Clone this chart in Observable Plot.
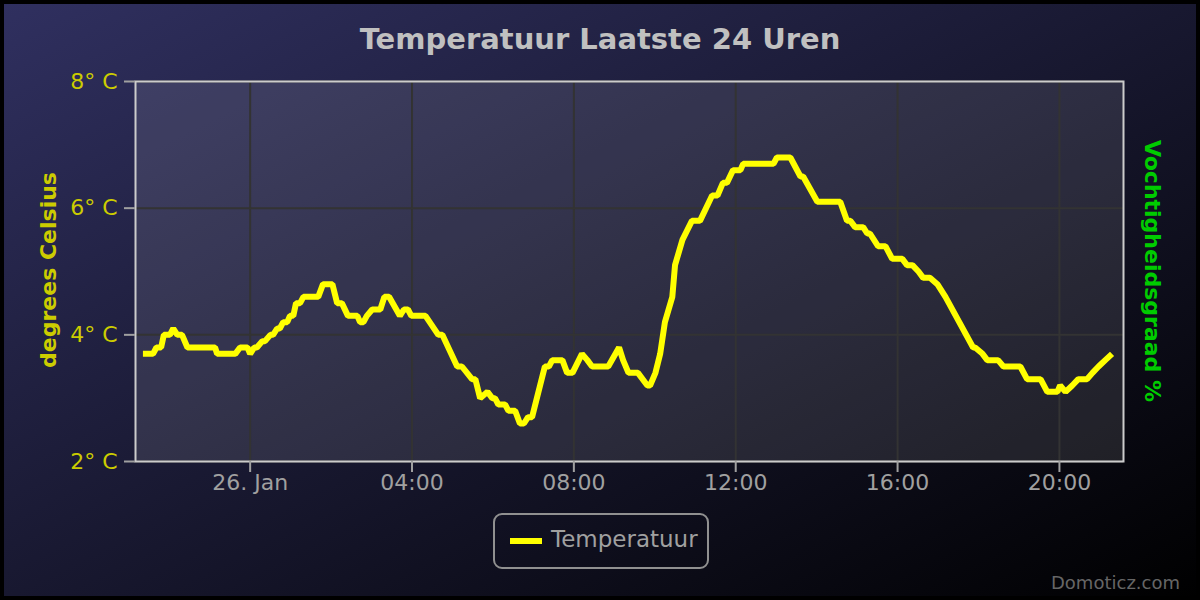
<!DOCTYPE html>
<html>
<head>
<meta charset="utf-8">
<script src="https://cdn.jsdelivr.net/npm/d3@7"></script>
<script src="https://cdn.jsdelivr.net/npm/@observablehq/plot@0.6"></script>
<style>
  html, body { margin: 0; padding: 0; background: #000; }
  #wrap { position: relative; width: 1200px; height: 600px; overflow: hidden;
    background: linear-gradient(to bottom right, rgb(48,48,96), rgb(0,0,0));
    font-family: "DejaVu Sans", sans-serif; }
  #border { position: absolute; left: 0; top: 0; width: 1200px; height: 600px; box-sizing: border-box;
    border: 4px solid #000; pointer-events: none; }
  #title { position: absolute; left: 0; width: 1200px; top: 22px; text-align: center;
    color: #c0c0c0; font-weight: bold; font-size: 29px; }
  .ytitle { position: absolute; font-weight: bold; font-size: 22px; white-space: nowrap;
    transform-origin: center center; }
  #ylab { left: 48px; top: 270px; color: #cccc00; transform: translate(-50%, -50%) rotate(-90deg); }
  #ylab2 { left: 1152px; top: 271px; color: #00cc00; transform: translate(-50%, -50%) rotate(90deg); }
  #legend { position: absolute; left: 493px; top: 513px; width: 216px; height: 56px; box-sizing: border-box;
    border: 2px solid #909090; border-radius: 9px; }
  #legend .sym { position: absolute; left: 15px; top: 23px; width: 32px; height: 6px; background: #ffff00; }
  #legend .txt { position: absolute; left: 56px; top: 11px; color: #a0a0a0; font-size: 23px; }
  #credits { position: absolute; right: 20px; top: 572px; color: #666; font-size: 18px; }
</style>
</head>
<body>
<div id="wrap">
  <div id="chart"></div>
  <div id="title"></div>
  <div id="ylab" class="ytitle"></div>
  <div id="ylab2" class="ytitle"></div>
  <div id="legend"><div class="sym"></div><div class="txt"></div></div>
  <div id="credits"></div>
  <div id="border"></div>
</div>
<script>
// ---- Texts ----
const chartTitle = "Temperatuur Laatste 24 Uren";
const yAxisTitle = "degrees Celsius";
const y2AxisTitle = "Vochtigheidsgraad %";
const seriesName = "Temperatuur";
const creditsText = "Domoticz.com";

// ---- Axes ----
const xDomain = ["2025-01-25T21:10", "2025-01-26T21:35"];
const xTicks = ["2025-01-26T00:00", "2025-01-26T04:00", "2025-01-26T08:00",
                "2025-01-26T12:00", "2025-01-26T16:00", "2025-01-26T20:00"];
const xTickLabels = ["26. Jan", "04:00", "08:00", "12:00", "16:00", "20:00"];
const yDomain = [2, 8];
const yTicks = [2, 4, 6, 8];
const yTickLabels = ["2° C", "4° C", "6° C", "8° C"];

// ---- Series (time, temperature °C) ----
const times = [
  "2025-01-25T21:21","2025-01-25T21:36","2025-01-25T21:41","2025-01-25T21:48","2025-01-25T21:52",
  "2025-01-25T22:01","2025-01-25T22:06","2025-01-25T22:12","2025-01-25T22:19","2025-01-25T22:27",
  "2025-01-25T23:08","2025-01-25T23:11","2025-01-25T23:38","2025-01-25T23:45","2025-01-25T23:56",
  "2025-01-26T00:00","2025-01-26T00:06","2025-01-26T00:10","2025-01-26T00:18","2025-01-26T00:22",
  "2025-01-26T00:30","2025-01-26T00:34","2025-01-26T00:40","2025-01-26T00:44","2025-01-26T00:49",
  "2025-01-26T00:55","2025-01-26T00:59","2025-01-26T01:04","2025-01-26T01:08","2025-01-26T01:14",
  "2025-01-26T01:19","2025-01-26T01:41","2025-01-26T01:48","2025-01-26T02:02","2025-01-26T02:09",
  "2025-01-26T02:16","2025-01-26T02:25","2025-01-26T02:39","2025-01-26T02:43","2025-01-26T02:48",
  "2025-01-26T02:53","2025-01-26T03:01","2025-01-26T03:13","2025-01-26T03:19","2025-01-26T03:26",
  "2025-01-26T03:42","2025-01-26T03:48","2025-01-26T03:54","2025-01-26T03:59","2025-01-26T04:20",
  "2025-01-26T04:39","2025-01-26T04:45","2025-01-26T05:07","2025-01-26T05:14","2025-01-26T05:29",
  "2025-01-26T05:34","2025-01-26T05:41","2025-01-26T05:52","2025-01-26T05:59","2025-01-26T06:03",
  "2025-01-26T06:08","2025-01-26T06:18","2025-01-26T06:23","2025-01-26T06:33","2025-01-26T06:40",
  "2025-01-26T06:46","2025-01-26T06:52","2025-01-26T06:58","2025-01-26T07:17","2025-01-26T07:23",
  "2025-01-26T07:28","2025-01-26T07:43","2025-01-26T07:50","2025-01-26T07:58","2025-01-26T08:12",
  "2025-01-26T08:20","2025-01-26T08:27","2025-01-26T08:51","2025-01-26T09:07","2025-01-26T09:13",
  "2025-01-26T09:21","2025-01-26T09:35","2025-01-26T09:49","2025-01-26T09:53","2025-01-26T10:01",
  "2025-01-26T10:08","2025-01-26T10:15","2025-01-26T10:26","2025-01-26T10:30","2025-01-26T10:41",
  "2025-01-26T10:55","2025-01-26T11:07","2025-01-26T11:25","2025-01-26T11:33","2025-01-26T11:41",
  "2025-01-26T11:47","2025-01-26T11:56","2025-01-26T12:07","2025-01-26T12:11","2025-01-26T12:56",
  "2025-01-26T13:01","2025-01-26T13:21","2025-01-26T13:36","2025-01-26T13:40","2025-01-26T14:01",
  "2025-01-26T14:35","2025-01-26T14:45","2025-01-26T14:50","2025-01-26T14:57","2025-01-26T15:09",
  "2025-01-26T15:15","2025-01-26T15:19","2025-01-26T15:31","2025-01-26T15:42","2025-01-26T15:52",
  "2025-01-26T16:07","2025-01-26T16:14","2025-01-26T16:22","2025-01-26T16:31","2025-01-26T16:38",
  "2025-01-26T16:48","2025-01-26T16:59","2025-01-26T17:11","2025-01-26T17:52","2025-01-26T17:55",
  "2025-01-26T18:06","2025-01-26T18:13","2025-01-26T18:29","2025-01-26T18:37","2025-01-26T19:02",
  "2025-01-26T19:12","2025-01-26T19:32","2025-01-26T19:42","2025-01-26T19:57","2025-01-26T20:01",
  "2025-01-26T20:09","2025-01-26T20:19","2025-01-26T20:28","2025-01-26T20:41","2025-01-26T20:49",
  "2025-01-26T20:58","2025-01-26T21:08","2025-01-26T21:18"
];
const temps = [
  3.7,3.7,3.8,3.8,4.0,
  4.0,4.1,4.0,4.0,3.8,
  3.8,3.7,3.7,3.8,3.8,
  3.7,3.8,3.8,3.9,3.9,
  4.0,4.0,4.1,4.1,4.2,
  4.2,4.3,4.3,4.5,4.5,
  4.6,4.6,4.8,4.8,4.5,
  4.5,4.3,4.3,4.2,4.2,
  4.3,4.4,4.4,4.6,4.6,
  4.3,4.4,4.4,4.3,4.3,
  4.0,4.0,3.5,3.5,3.3,
  3.3,3.0,3.1,3.0,3.0,
  2.9,2.9,2.8,2.8,2.6,
  2.6,2.7,2.7,3.5,3.5,
  3.6,3.6,3.4,3.4,3.7,
  3.6,3.5,3.5,3.8,3.6,
  3.4,3.4,3.2,3.2,3.4,
  3.7,4.2,4.6,5.1,5.5,
  5.8,5.8,6.2,6.2,6.4,
  6.4,6.6,6.6,6.7,6.7,
  6.8,6.8,6.5,6.5,6.1,
  6.1,5.8,5.8,5.7,5.7,
  5.6,5.6,5.4,5.4,5.2,
  5.2,5.1,5.1,5.0,4.9,
  4.9,4.8,4.6,3.8,3.8,
  3.7,3.6,3.6,3.5,3.5,
  3.3,3.3,3.1,3.1,3.2,
  3.1,3.2,3.3,3.3,3.4,
  3.5,3.6,3.7
];

const parse = s => new Date(s + ":00Z");
const data = times.map((t, i) => ({time: parse(t), temp: temps[i]}));
const xTickDates = xTicks.map(parse);
const xLabelMap = new Map(xTickDates.map((d, i) => [+d, xTickLabels[i]]));
const yLabelMap = new Map(yTicks.map((v, i) => [v, yTickLabels[i]]));

const chart = Plot.plot({
  width: 1200,
  height: 600,
  marginLeft: 135,
  marginRight: 77,
  marginTop: 81,
  marginBottom: 139,
  style: {background: "transparent", fontFamily: "'DejaVu Sans', sans-serif", overflow: "visible"},
  x: {type: "utc", domain: xDomain.map(parse)},
  y: {domain: yDomain},
  marks: [
    Plot.frame({fill: "#ffffff", fillOpacity: 0.1}),
    Plot.gridX(xTickDates, {stroke: "#333333", strokeOpacity: 1, strokeWidth: 2}),
    Plot.gridY(yTicks, {stroke: "#333333", strokeOpacity: 1, strokeWidth: 2}),
    Plot.line(data, {x: "time", y: "temp", stroke: "#ffff00", strokeWidth: 6, strokeLinejoin: "miter", strokeLinecap: "butt"}),
    Plot.frame({stroke: "#cccccc", strokeWidth: 2}),
    Plot.axisY(yTicks, {tickSize: 11, tickPadding: 7, tickFormat: d => yLabelMap.get(d),
      fill: "#cccc00", stroke: "#a0a0a0", strokeWidth: 2, fontSize: 22, label: null}),
    Plot.axisX(xTickDates, {tickSize: 11, tickPadding: 2, tickFormat: d => xLabelMap.get(+d),
      fill: "#a0a0a0", stroke: "#a0a0a0", strokeWidth: 2, fontSize: 22, label: null})
  ]
});
document.getElementById("chart").appendChild(chart);
document.getElementById("title").textContent = chartTitle;
document.getElementById("ylab").textContent = yAxisTitle;
document.getElementById("ylab2").textContent = y2AxisTitle;
document.querySelector("#legend .txt").textContent = seriesName;
document.getElementById("credits").textContent = creditsText;
</script>
</body>
</html>
